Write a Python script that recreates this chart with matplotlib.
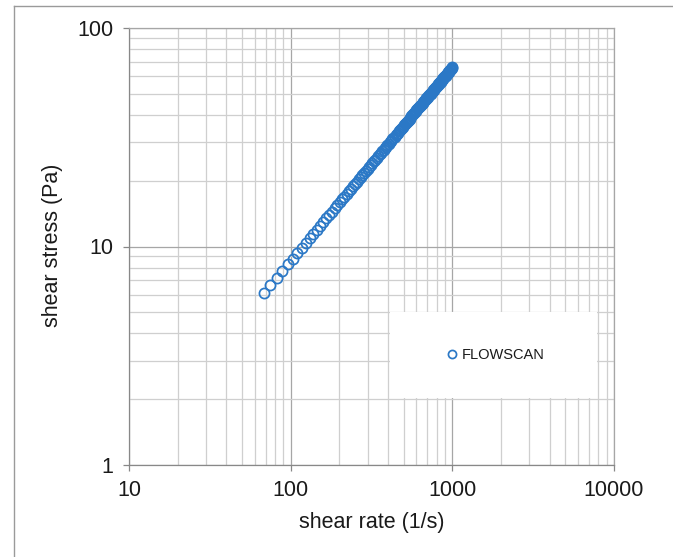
import matplotlib
matplotlib.use("Agg")
import matplotlib.pyplot as plt
from matplotlib.lines import Line2D
from matplotlib.patches import Rectangle
from matplotlib.ticker import FixedLocator, FixedFormatter, LogLocator, NullFormatter

plt.rcParams["font.family"] = ["Liberation Sans", "DejaVu Sans"]

# flow curve, FLOWSCAN run
shear_rate = [68, 75, 82, 89, 96, 103, 110, 117, 124, 131, 138, 145, 152, 159, 166,
              173, 180, 187, 194, 201, 208, 215, 222, 229, 236, 243, 250, 257, 264,
              271, 278, 285, 292, 299, 306, 313, 320, 327, 334, 341, 348, 355, 362,
              369, 376, 383, 390, 397, 404, 411, 418, 425, 432, 439, 446, 453, 460,
              467, 474, 481, 488, 495, 502, 509, 516, 523, 530, 537, 544, 551, 558,
              565, 572, 579, 586, 593, 600, 607, 614, 621, 628, 635, 642, 649, 656,
              663, 670, 677, 684, 691, 698, 705, 712, 719, 726, 733, 740, 747, 754,
              761, 768, 775, 782, 789, 796, 803, 810, 817, 824, 831, 838, 845, 852,
              859, 866, 873, 880, 887, 894, 901, 908, 915, 922, 929, 936, 943, 950,
              957, 964, 971, 978, 985, 992, 999]
shear_stress = [6.10, 6.65, 7.20, 7.74, 8.28, 8.81, 9.34, 9.86, 10.39, 10.90, 11.42,
                11.93, 12.44, 12.94, 13.45, 13.95, 14.45, 14.94, 15.44, 15.93, 16.42,
                16.91, 17.40, 17.89, 18.37, 18.85, 19.33, 19.81, 20.29, 20.76, 21.24,
                21.71, 22.18, 22.65, 23.12, 23.59, 24.06, 24.52, 24.99, 25.45, 25.91,
                26.37, 26.83, 27.29, 27.75, 28.21, 28.66, 29.12, 29.58, 30.03, 30.49,
                30.94, 31.39, 31.84, 32.29, 32.74, 33.18, 33.63, 34.08, 34.52, 34.97,
                35.41, 35.85, 36.29, 36.73, 37.17, 37.61, 38.05, 38.49, 38.93, 39.37,
                39.81, 40.25, 40.68, 41.12, 41.55, 42.00, 42.43, 42.87, 43.30, 43.73,
                44.16, 44.60, 45.03, 45.46, 45.89, 46.32, 46.74, 47.17, 47.60, 48.01,
                48.44, 48.86, 49.29, 49.71, 50.14, 50.56, 50.98, 51.41, 51.83, 52.25,
                52.67, 53.10, 53.52, 53.94, 54.36, 54.78, 55.20, 55.62, 56.03, 56.45,
                56.87, 57.29, 57.70, 58.12, 58.54, 58.95, 59.37, 59.78, 60.20, 60.61,
                61.03, 61.44, 61.85, 62.27, 62.68, 63.09, 63.50, 63.92, 64.33, 64.74,
                65.15, 65.56, 65.97]
series_name = "FLOWSCAN"

x_ticks = [10, 100, 1000, 10000]
x_labels = ["10", "100", "1000", "10000"]
y_ticks = [1, 10, 100]
y_labels = ["1", "10", "100"]

BLUE = "#2b78c6"
TXT = "#1a1a1a"

fig = plt.figure(figsize=(6.73, 5.57), dpi=100)
ax = fig.add_axes([129 / 673, 1 - 465 / 557, 485 / 673, 437 / 557])

ax.set_xscale("log")
ax.set_yscale("log")
ax.set_xlim(x_ticks[0], x_ticks[-1])
ax.set_ylim(y_ticks[0], y_ticks[-1])

ax.xaxis.set_major_locator(FixedLocator(x_ticks))
ax.xaxis.set_major_formatter(FixedFormatter(x_labels))
ax.yaxis.set_major_locator(FixedLocator(y_ticks))
ax.yaxis.set_major_formatter(FixedFormatter(y_labels))
for axis in (ax.xaxis, ax.yaxis):
    axis.set_minor_locator(LogLocator(base=10, subs=range(2, 10)))
    axis.set_minor_formatter(NullFormatter())

ax.set_axisbelow(True)
ax.grid(which="major", color="#a6a6a6", lw=0.9)
ax.grid(which="minor", color="#cfcfcf", lw=0.9)
ax.tick_params(which="major", direction="out", length=4, width=0.9, color="#888888",
               labelsize=15.5, labelcolor=TXT, pad=7)
ax.tick_params(which="minor", length=0)
for sp in ax.spines.values():
    sp.set_color("#a6a6a6")
    sp.set_linewidth(0.9)
ax.spines["left"].set_color("#888888")
ax.spines["bottom"].set_color("#888888")

ax.plot(shear_rate, shear_stress, ls="none", marker="o", ms=7.3, mfc="none",
        mec=BLUE, mew=1.25, label=series_name, zorder=3)

# white legend panel sitting over the grid
ax.add_patch(Rectangle((0.538, 0.153), 0.427, 0.197, transform=ax.transAxes,
                       facecolor="white", edgecolor="none", zorder=1.5))
leg = ax.legend(loc="center", bbox_to_anchor=(0.757, 0.252), frameon=False,
                fontsize=10.5, handlelength=0.6, handletextpad=0.4, borderpad=0,
                markerscale=0.8)
for t in leg.get_texts():
    t.set_color(TXT)

ax.set_xlabel("shear rate (1/s)", fontsize=15.5, color=TXT)
ax.xaxis.set_label_coords(0.5, -0.108)
ax.set_ylabel("shear stress (Pa)", fontsize=15.5, color=TXT)
ax.yaxis.set_label_coords(-0.136, 0.503)

# chart-area frame (left and top edges)
fig.add_artist(Line2D([14 / 673, 14 / 673], [0, 1 - 6 / 557], color="#9a9a9a", lw=1.0))
fig.add_artist(Line2D([14 / 673, 1], [1 - 6 / 557, 1 - 6 / 557], color="#9a9a9a", lw=1.0))

fig.savefig("out.png", dpi=100)
